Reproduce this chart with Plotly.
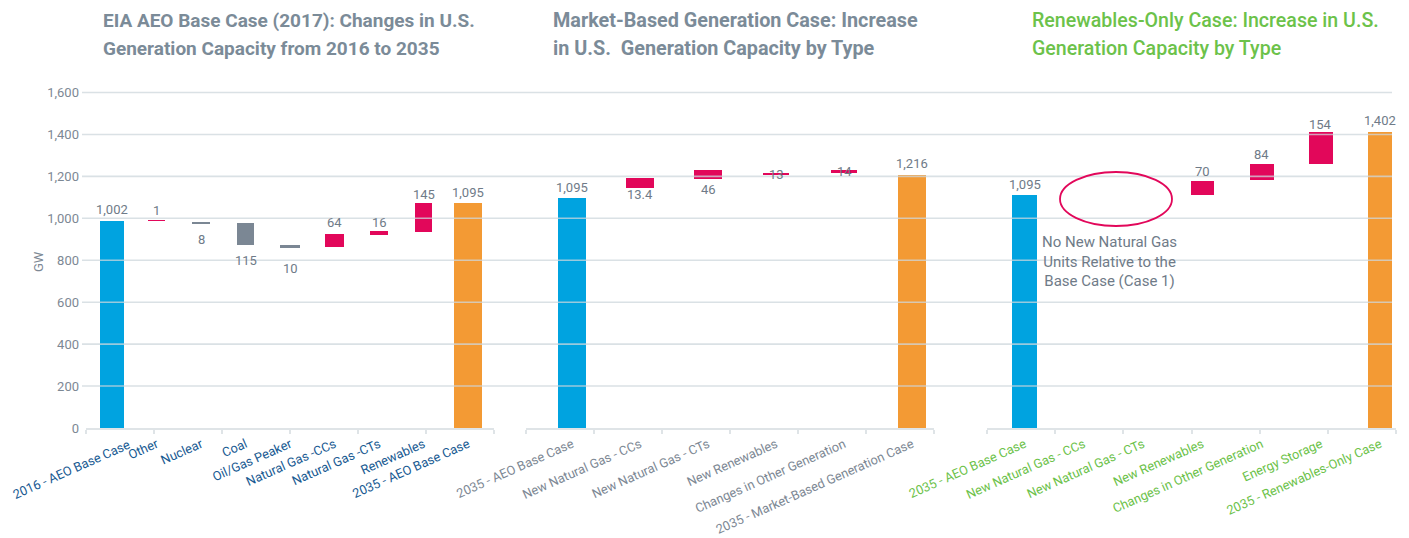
import numpy as np
import plotly.graph_objects as go

# ---------------- data ----------------
left_categories = ["2016 - AEO Base Case", "Other", "Nuclear", "Coal", "Oil/Gas Peaker",
                   "Natural Gas -CCs", "Natural Gas -CTs", "Renewables", "2035 - AEO Base Case"]
left_low = [0, 988, 976, 872, 862, 862, 921, 935, 0]
left_high = [989, 991, 984, 976, 871, 923, 937, 1073, 1073]
left_labels = ["1,002", "1", "8", "115", "10", "64", "16", "145", "1,095"]

mid_categories = ["2035 - AEO Base Case", "New Natural Gas - CCs", "New Natural Gas - CTs",
                  "New Renewables", "Changes in Other Generation", "2035 - Market-Based Generation Case"]
mid_low = [0, 1144, 1186, 1205, 1214, 0]
mid_high = [1094, 1191, 1229, 1215, 1229, 1206]
mid_labels = ["1,095", "13.4", "46", "13", "14", "1,216"]

right_categories = ["2035 - AEO Base Case", "New Natural Gas - CCs", "New Natural Gas - CTs",
                    "New Renewables", "Changes in Other Generation", "Energy Storage",
                    "2035 - Renewables-Only Case"]
right_low = [0, None, None, 1109, 1181, 1260, 0]
right_high = [1110, None, None, 1178, 1260, 1409, 1409]
right_labels = ["1,095", "", "", "70", "84", "154", "1,402"]

y_ticks = [0, 200, 400, 600, 800, 1000, 1200, 1400, 1600]

titles = [
    ["EIA AEO Base Case (2017): Changes in U.S.", "Generation Capacity from 2016 to 2035"],
    ["Market-Based Generation Case: Increase", "in U.S.  Generation Capacity by Type"],
    ["Renewables-Only Case: Increase in U.S.", "Generation Capacity by Type"],
]
note_text = "No New Natural Gas<br>Units Relative to the<br>Base Case (Case 1)"

# ---------------- styles / geometry ----------------
PAGE_W, PAGE_H = 1409, 538
OFF = 8                      # default page body margin
W, H = PAGE_W - OFF, PAGE_H - OFF


def fx(px):                  # page pixel x -> paper fraction
    return (px - OFF) / W


def fy(py):                  # page pixel y -> paper fraction
    return (H - (py - OFF)) / H


FONT = "Roboto"
BLUE, ORANGE, RED, GREY = "#00a3e0", "#f39a34", "#e2075a", "#7b8794"
LABEL_GREY = "#6f7b88"
TITLE_GREY = "#7b8b98"
GREEN = "#6cc24a"
NAVY = "#185a92"
MIDGREY = "#7d8894"
GRID = "rgba(205,215,220,0.75)"
AXIS = "#dfe4e7"
TICK_SIZE = 12.8
TICK_ANGLE = -24

panels = [
    dict(cats=left_categories, low=left_low, high=left_high, labels=left_labels,
         colors=[BLUE, RED, GREY, GREY, GREY, RED, RED, RED, ORANGE],
         widths=[0.54, 0.39, 0.39, 0.40, 0.43, 0.42, 0.40, 0.39, 0.63],
         place=[("t", 11), ("t", 10), ("b", -16), ("b", -15), ("b", -21), ("t", 12), ("t", 9), ("t", 9), ("t", 11)],
         px=(86, 494), first_center=112, step=44.5, tickcolor=NAVY, title_color=TITLE_GREY,
         title_x=102, title_weight="bold", title_size=19),
    dict(cats=mid_categories, low=mid_low, high=mid_high, labels=mid_labels,
         colors=[BLUE, RED, RED, RED, RED, ORANGE],
         widths=[0.41, 0.41, 0.41, 0.38, 0.39, 0.40],
         place=[("t", 11), ("b", -6), ("b", -10), ("m", 0), ("m", 0), ("t", 12)],
         px=(526, 934), first_center=572, step=68, tickcolor=MIDGREY, title_color=TITLE_GREY,
         title_x=552, title_weight="bold", title_size=19.8),
    dict(cats=right_categories, low=right_low, high=right_high, labels=right_labels,
         colors=[BLUE, RED, RED, RED, RED, RED, ORANGE],
         widths=[0.42, 0.40, 0.40, 0.39, 0.405, 0.405, 0.405],
         place=[("t", 11), ("t", 9), ("t", 9), ("t", 9), ("t", 9), ("t", 8), ("t", 12)],
         px=(987, 1396), first_center=1024.5, step=59.25, tickcolor=GREEN, title_color=GREEN,
         title_x=1031, title_weight=500, title_size=19.6),
]

# vertical placement (page px): value 0 at y=428px, 1600 at y=92.5px
Y0_PX, Y1600_PX = 428.0, 92.5
k = (Y0_PX - Y1600_PX) / 1600.0
YMAX = 1640
top_px = Y0_PX - YMAX * k
ydom = [fy(Y0_PX), fy(top_px)]

TITLE_TOPS = [8, 35.5]       # page px of each title line's box top

fig = go.Figure()
annotations = []
shapes = []

for i, p in enumerate(panels):
    ax = "" if i == 0 else str(i + 1)
    xname, yname = "x" + ax, "y"
    n = len(p["cats"])
    pos = list(range(n))
    lo_r = (p["px"][0] - p["first_center"]) / p["step"]
    hi_r = (p["px"][1] - p["first_center"]) / p["step"]
    xs, ys, bs, ws, cs = [], [], [], [], []
    for j in range(n):
        if p["low"][j] is None:
            continue
        xs.append(pos[j])
        bs.append(p["low"][j])
        ys.append(p["high"][j] - p["low"][j])
        ws.append(p["widths"][j])
        cs.append(p["colors"][j])
    fig.add_trace(go.Bar(x=xs, y=ys, base=bs, width=ws, marker=dict(color=cs, line=dict(width=0)),
                         xaxis=xname, yaxis=yname, hoverinfo="skip", showlegend=False))
    for j in range(n):
        if not p["labels"][j] or p["low"][j] is None:
            continue
        ref, off = p["place"][j]
        if ref == "t":
            yv = p["high"][j]
        elif ref == "b":
            yv = p["low"][j]
        else:
            yv = (p["low"][j] + p["high"][j]) / 2.0
        annotations.append(dict(x=pos[j], y=yv, xref=xname, yref="y", text=p["labels"][j],
                                showarrow=False, yanchor="middle", xanchor="center", yshift=off,
                                font=dict(family=FONT, size=13, color=LABEL_GREY)))
    ticktext = list(p["cats"])
    if i == 0:
        # the first label sits a little further right so that it stays inside the page
        ticktext[0] = ""
        annotations.append(dict(x=fx(71), y=fy(469), xref="paper", yref="paper", text=p["cats"][0],
                                textangle=TICK_ANGLE, showarrow=False, xanchor="center", yanchor="middle",
                                font=dict(family=FONT, size=TICK_SIZE, color=p["tickcolor"])))
    axis_def = dict(
        domain=[fx(p["px"][0]), fx(p["px"][1])], range=[lo_r, hi_r], anchor="y",
        tickmode="array", tickvals=pos, ticktext=ticktext, tickangle=TICK_ANGLE, ticks="",
        tickfont=dict(family=FONT, size=TICK_SIZE, color=p["tickcolor"]), ticklabeloverflow="allow",
        ticklabelstandoff=2,
        showgrid=False, zeroline=False, showline=True, linecolor=AXIS, linewidth=2,
        minor=dict(tickmode="array", tickvals=list(np.linspace(lo_r, hi_r, 7)), ticks="outside",
                   ticklen=4, tickcolor=AXIS, tickwidth=1.5, showgrid=False),
        fixedrange=True, automargin=False,
    )
    fig.update_layout(**{"xaxis" + ax: axis_def})
    # titles (two lines each)
    for li, line in enumerate(titles[i]):
        annotations.append(dict(x=fx(p["title_x"]), y=fy(TITLE_TOPS[li]), xref="paper", yref="paper",
                                xanchor="left", yanchor="top", text=line, showarrow=False, borderpad=0,
                                font=dict(family=FONT, size=p["title_size"], color=p["title_color"],
                                          weight=p["title_weight"])))

fig.update_layout(
    yaxis=dict(domain=ydom, range=[0, YMAX], tickmode="array", tickvals=y_ticks, tickformat=",",
               ticks="", showgrid=False, zeroline=False, showline=False, anchor="x",
               ticklabelstandoff=6,
               tickfont=dict(family=FONT, size=13, color=MIDGREY), fixedrange=True,
               automargin=False),
)

# gridlines drawn on top of bars, spanning all three panels
for t in y_ticks[1:]:
    shapes.append(dict(type="line", xref="paper", yref="y", x0=fx(82), x1=fx(1392), y0=t, y1=t,
                       line=dict(color=GRID, width=1.6), layer="above"))

# ellipse highlight and note in the third panel
shapes.append(dict(type="circle", xref="paper", yref="paper", x0=fx(1060), x1=fx(1172),
                   y0=fy(226), y1=fy(172), line=dict(color=RED, width=1.8)))
annotations.append(dict(x=fx(1109), y=fy(261), xref="paper", yref="paper", text=note_text,
                        showarrow=False, xanchor="center", yanchor="middle", align="center",
                        font=dict(family=FONT, size=15, color=LABEL_GREY)))
# axis title
annotations.append(dict(x=fx(38), y=fy(261), xref="paper", yref="paper", text="GW",
                        textangle=-90, showarrow=False, xanchor="center", yanchor="middle",
                        font=dict(family=FONT, size=13, color=MIDGREY)))

fig.update_layout(
    width=W, height=H, margin=dict(l=0, r=0, t=0, b=0, autoexpand=False),
    paper_bgcolor="white", plot_bgcolor="white",
    annotations=annotations, shapes=shapes, bargap=0, showlegend=False,
    font=dict(family=FONT),
)

fig.write_html("out.html")
